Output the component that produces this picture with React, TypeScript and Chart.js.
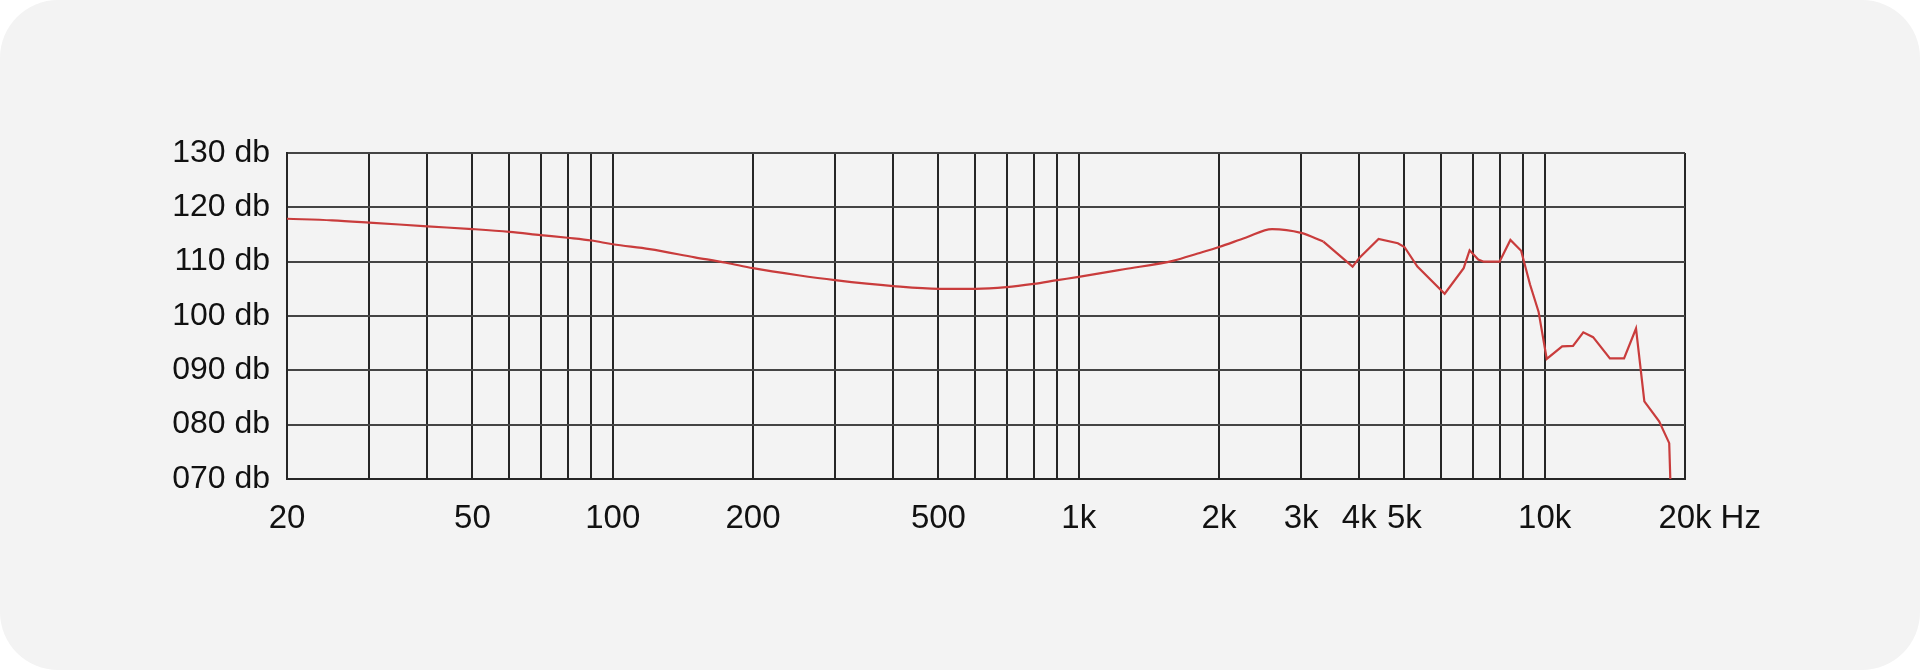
import React, { useEffect, useRef } from "react";
import { Chart, registerables } from "chart.js";

Chart.register(...registerables);

// Frequency response (Hz) and level (dB)
const freqs: number[] = [
  20, 25, 30, 40, 50, 60, 70, 80, 90, 100, 120, 150, 175, 200, 250, 300, 400, 500, 600, 700,
  800, 900, 1000, 1250, 1600, 1800, 2000, 2280, 2600, 3000, 3350, 3870, 4000, 4400, 4840,
  5000, 5330, 6100, 6700, 6900, 7200, 7400, 8000, 8440, 8900, 9300, 9700, 10100, 10900,
  11500, 12100, 12700, 13800, 14800, 15700, 16360, 17600, 18500, 18600,
];
const levels: number[] = [
  117.9, 117.6, 117.2, 116.5, 116.0, 115.5, 114.9, 114.4, 113.9, 113.2, 112.3, 110.8, 109.8,
  108.8, 107.5, 106.6, 105.5, 105.0, 105.0, 105.3, 105.9, 106.6, 107.2, 108.6, 110.2, 111.5,
  112.7, 114.4, 116.0, 115.3, 113.7, 109.1, 110.7, 114.2, 113.4, 112.7, 109.1, 104.1, 108.8,
  112.1, 110.4, 110.0, 110.0, 114.0, 112.0, 105.8, 100.8, 92.1, 94.4, 94.5, 97.0, 96.1, 92.2,
  92.2, 97.7, 84.3, 80.6, 76.6, 70.0,
];
// The curve is smooth up to this frequency and jagged above it
const smoothUntil = 3350;

// Vertical grid frequencies and their labels
const gridFreqs: number[] = [
  20, 30, 40, 50, 60, 70, 80, 90, 100, 200, 300, 400, 500, 600, 700, 800, 900, 1000, 2000,
  3000, 4000, 5000, 6000, 7000, 8000, 9000, 10000, 20000,
];
const labeledFreqs: number[] = [20, 50, 100, 200, 500, 1000, 2000, 3000, 4000, 5000, 10000, 20000];
const freqLabels: string[] = ["20", "50", "100", "200", "500", "1k", "2k", "3k", "4k", "5k", "10k", "20k"];
const unitLabel = "Hz";

const yMin = 70;
const yMax = 130;
const yStep = 10;

const FONT = '"Liberation Sans", Arial, Helvetica, sans-serif';
const X_FONT_SIZE = 33;
const X_PAD = 20;
const LINE_COLOR = "#c93c3c";

export default function App() {
  const ref = useRef<HTMLCanvasElement | null>(null);

  useEffect(() => {
    if (!ref.current) return;
    const hzPlugin = {
      id: "hzLabel",
      afterDraw(chart: any) {
        const xs = chart.scales.x;
        const ctx = chart.ctx;
        ctx.save();
        ctx.font = `${X_FONT_SIZE}px ${FONT}`;
        ctx.fillStyle = "#111";
        ctx.textBaseline = "middle";
        ctx.textAlign = "left";
        const last = freqLabels[freqLabels.length - 1];
        const px = xs.getPixelForValue(labeledFreqs[labeledFreqs.length - 1]);
        const w = ctx.measureText(last).width;
        ctx.fillText(unitLabel, px + w / 2 + 9, xs.top + X_PAD + (X_FONT_SIZE * 1.2) / 2);
        ctx.restore();
      },
    };

    const all = freqs.map((f, i) => ({ x: f, y: levels[i] }));
    const smooth = all.filter((p) => p.x <= smoothUntil);
    const sharp = all.filter((p) => p.x >= smoothUntil);

    const chart = new Chart(ref.current, {
      type: "line",
      data: {
        datasets: [
          {
            data: smooth,
            borderColor: LINE_COLOR,
            borderWidth: 2.2,
            pointRadius: 0,
            cubicInterpolationMode: "monotone",
            fill: false,
          },
          {
            data: sharp,
            borderColor: LINE_COLOR,
            borderWidth: 2.2,
            pointRadius: 0,
            tension: 0,
            fill: false,
          },
        ],
      },
      options: {
        animation: false,
        responsive: false,
        devicePixelRatio: 1,
        layout: { padding: { top: 153, right: 235, left: 0, bottom: 0 } },
        plugins: { legend: { display: false }, tooltip: { enabled: false } },
        scales: {
          x: {
            type: "logarithmic",
            min: 20,
            max: 20000,
            afterBuildTicks: (scale: any) => {
              scale.ticks = gridFreqs.map((v) => ({ value: v }));
            },
            afterFit: (scale: any) => {
              scale.height = 191;
            },
            ticks: {
              autoSkip: false,
              maxRotation: 0,
              minRotation: 0,
              padding: X_PAD,
              color: "#111",
              font: { size: X_FONT_SIZE, family: FONT },
              callback: (value: any) => {
                const i = labeledFreqs.indexOf(Number(value));
                return i >= 0 ? freqLabels[i] : "";
              },
            },
            grid: { color: "#262626", lineWidth: 2, drawTicks: false },
            border: { display: true, color: "#262626", width: 2 },
          },
          y: {
            min: yMin,
            max: yMax,
            afterFit: (scale: any) => {
              scale.width = 287;
            },
            ticks: {
              stepSize: yStep,
              padding: 17,
              color: "#111",
              font: { size: 32, family: FONT },
              callback: (value: any) => String(value).padStart(3, "0") + " db",
            },
            grid: { color: "#444444", lineWidth: 2, drawTicks: false },
            border: { display: true, color: "#262626", width: 2 },
          },
        },
      },
      plugins: [hzPlugin],
    } as any);
    return () => chart.destroy();
  }, []);

  return (
    <div
      style={{
        position: "fixed",
        left: 0,
        top: 0,
        width: 1920,
        height: 670,
        background: "#ffffff",
      }}
    >
      <div
        style={{
          position: "absolute",
          left: 0,
          top: 0,
          width: 1920,
          height: 670,
          background: "#f3f3f3",
          borderRadius: 58,
        }}
      />
      <canvas
        ref={ref}
        width={1920}
        height={670}
        style={{ position: "absolute", left: 0, top: 0, width: 1920, height: 670 }}
      />
    </div>
  );
}
